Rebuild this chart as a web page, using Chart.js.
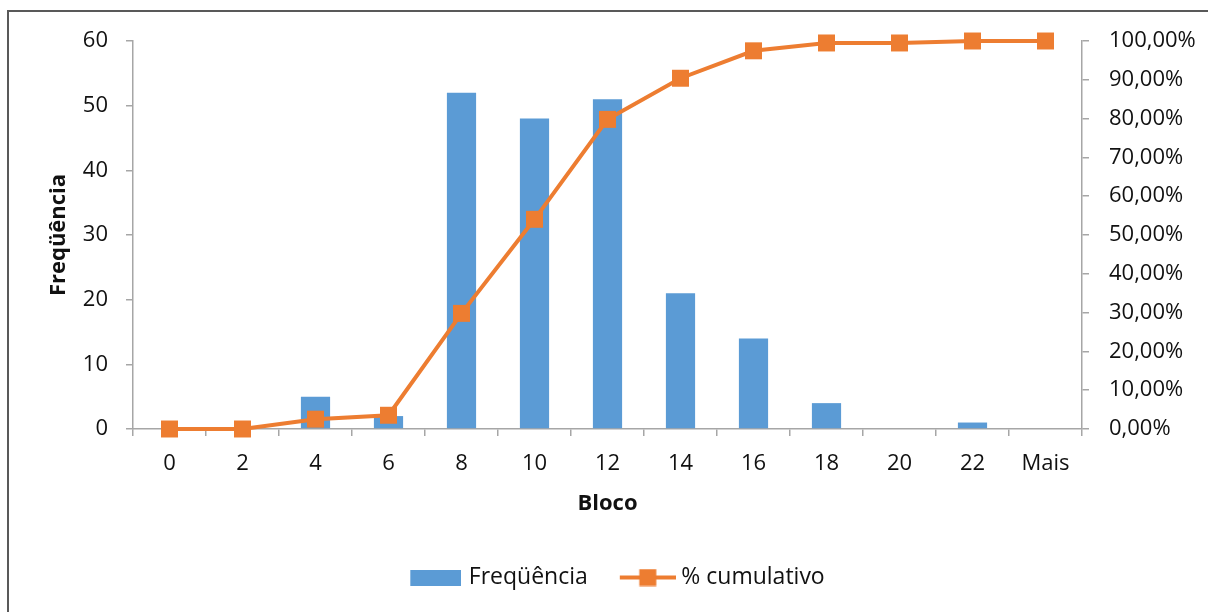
<!DOCTYPE html>
<html>
<head>
<meta charset="utf-8">
<script src="https://cdn.jsdelivr.net/npm/chart.js@4.4.1/dist/chart.umd.min.js"></script>
<style>
  html, body { margin: 0; padding: 0; background: #fff; overflow: hidden; }
  #wrap { position: relative; width: 1208px; height: 612px; }
  #frame { position: absolute; left: 7px; top: 10px; width: 1230px; height: 640px; border: 2px solid #595959; box-sizing: border-box; pointer-events: none; }
  canvas { position: absolute; left: 0; top: 0; }
</style>
</head>
<body>
<div id="wrap">
  <canvas id="chart" width="1208" height="612"></canvas>
  <div id="frame"></div>
</div>
<script>
// Histogram bins (Bloco) and counts per bin
const categories = ['0', '2', '4', '6', '8', '10', '12', '14', '16', '18', '20', '22', 'Mais'];
const frequencia = [0, 0, 5, 2, 52, 48, 51, 21, 14, 4, 0, 1, 0];
// Cumulative share of all observations, in percent
const cumulativo = [0, 0, 2.53, 3.54, 29.80, 54.04, 79.80, 90.40, 97.47, 99.49, 99.49, 100, 100];
// Axis ticks
const leftTicks = [0, 10, 20, 30, 40, 50, 60];
const rightTicks = [0, 10, 20, 30, 40, 50, 60, 70, 80, 90, 100];

const BLUE = '#5B9BD5';
const ORANGE = '#ED7D31';
const AXIS = '#a6a6a6';
const TEXT = '#111111';
const FONT = '"Open Sans"';
const FS = 22;
const LEGEND_FS = 23;

// Legend swatches: a flat bar, and a line with a square marker
function barSwatch() {
  const c = document.createElement('canvas');
  c.width = 58; c.height = 16;
  const g = c.getContext('2d');
  g.fillStyle = BLUE;
  g.fillRect(7, 0, 51, 16);
  return c;
}
function lineSwatch() {
  const c = document.createElement('canvas');
  c.width = 62; c.height = 18;
  const g = c.getContext('2d');
  g.strokeStyle = ORANGE;
  g.lineWidth = 4;
  g.beginPath(); g.moveTo(6, 9); g.lineTo(62, 9); g.stroke();
  g.fillStyle = ORANGE;
  g.fillRect(25.5, 0.5, 17, 17);
  return c;
}
const swatches = [barSwatch(), lineSwatch()];

// Nudge the legend row sideways so it sits under the plot's centre
const legendShift = {
  id: 'legendShift',
  afterLayout(chart) {
    if (chart.legend) { chart.legend.left += 12; chart.legend.right += 12; }
  }
};

const ctx = document.getElementById('chart').getContext('2d');
new Chart(ctx, {
  type: 'bar',
  plugins: [legendShift],
  data: {
    labels: categories,
    datasets: [
      {
        type: 'line',
        label: '% cumulativo',
        data: cumulativo,
        yAxisID: 'y1',
        borderColor: ORANGE,
        backgroundColor: ORANGE,
        borderWidth: 4,
        pointStyle: 'rect',
        pointRadius: 12,
        pointHoverRadius: 12,
        pointBorderWidth: 0,
        tension: 0,
        clip: false,
        order: 0
      },
      {
        type: 'bar',
        label: 'Freqüência',
        data: frequencia,
        yAxisID: 'y',
        backgroundColor: BLUE,
        borderWidth: 0,
        categoryPercentage: 1.0,
        barPercentage: 0.4,
        order: 1
      }
    ]
  },
  options: {
    responsive: false,
    animation: false,
    devicePixelRatio: 1,
    layout: { padding: { left: 0, right: 0, top: 41, bottom: 13 } },
    plugins: {
      tooltip: { enabled: false },
      legend: {
        position: 'bottom',
        labels: {
          usePointStyle: true,
          pointStyleWidth: 50,
          padding: 32,
          color: TEXT,
          font: { family: FONT, size: LEGEND_FS },
          generateLabels: (chart) => {
            const order = [1, 0];
            return order.map((di, i) => ({
              text: chart.data.datasets[di].label,
              pointStyle: swatches[i],
              datasetIndex: di,
              fillStyle: 'transparent',
              strokeStyle: 'transparent',
              lineWidth: 0,
              fontColor: TEXT,
              hidden: false
            }));
          }
        }
      }
    },
    scales: {
      x: {
        offset: true,
        grid: { offset: true, drawOnChartArea: false, drawTicks: true, tickLength: 7, color: AXIS, lineWidth: 1.5 },
        border: { display: true, color: AXIS, width: 1.5 },
        ticks: { color: TEXT, font: { family: FONT, size: FS }, padding: 15, maxRotation: 0, autoSkip: false },
        title: { display: true, text: 'Bloco', color: TEXT, font: { family: FONT, size: FS, weight: 'bold' }, padding: { top: 0, bottom: 17 } },
        afterFit: (s) => { s.height = 105; }
      },
      y: {
        position: 'left',
        min: 0, max: 60,
        afterBuildTicks: (s) => { s.ticks = leftTicks.map(v => ({ value: v })); },
        grid: { drawOnChartArea: false, drawTicks: true, tickLength: 7, color: AXIS, lineWidth: 1.5 },
        border: { display: true, color: AXIS, width: 1.5 },
        ticks: { color: TEXT, font: { family: FONT, size: FS }, padding: 18 },
        title: { display: true, text: 'Freqüência', color: TEXT, font: { family: FONT, size: FS, weight: 'bold' }, padding: { top: 46, bottom: 0 } },
        afterFit: (s) => { s.width = 133; }
      },
      y1: {
        position: 'right',
        min: 0, max: 100,
        afterBuildTicks: (s) => { s.ticks = rightTicks.map(v => ({ value: v })); },
        grid: { drawOnChartArea: false, drawTicks: true, tickLength: 7, color: AXIS, lineWidth: 1.5 },
        border: { display: true, color: AXIS, width: 1.5 },
        ticks: {
          color: TEXT, font: { family: FONT, size: FS }, padding: 20,
          callback: (v) => v.toFixed(2).replace('.', ',') + '%'
        },
        afterFit: (s) => { s.width = 1208 - 1082; }
      }
    }
  }
});
</script>
</body>
</html>
